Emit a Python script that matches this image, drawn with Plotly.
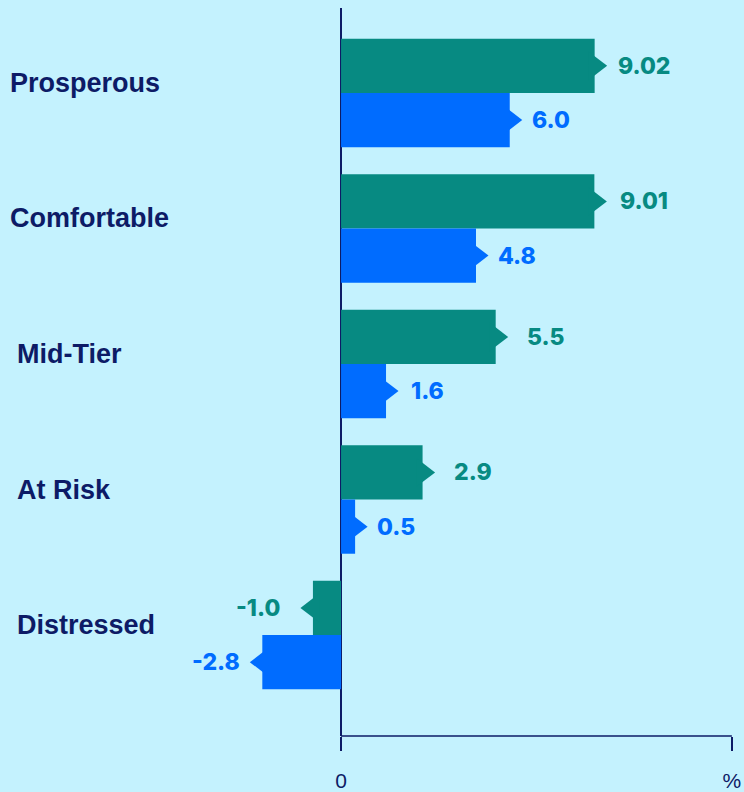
import plotly.graph_objects as go

# ---- data ----
categories = ["Prosperous", "Comfortable", "Mid-Tier", "At Risk", "Distressed"]
series_teal = [9.02, 9.01, 5.5, 2.9, -1.0]
series_blue = [6.0, 4.8, 1.6, 0.5, -2.8]
labels_teal = ["9.02", "9.01", "5.5", "2.9", "-1.0"]
labels_blue = ["6.0", "4.8", "1.6", "0.5", "-2.8"]
x_tick_vals = [0, 13.9]
x_tick_text = ["0", "%"]

# ---- style ----
BG = "#C4F2FE"
TEAL = "#078A82"
BLUE = "#006CFF"
NAVY = "#0D1B66"
BAR_W = 0.4
cat_indent = [8, 8, 15, 15, 15]

ypos = list(range(len(categories)))
y_teal = [y - BAR_W / 2 for y in ypos]
y_blue = [y + BAR_W / 2 for y in ypos]

fig = go.Figure()

fig.add_trace(go.Bar(x=series_teal, y=ypos, orientation="h", width=BAR_W, offset=-BAR_W,
                     marker=dict(color=TEAL, line=dict(width=0)), hoverinfo="skip"))
fig.add_trace(go.Bar(x=series_blue, y=ypos, orientation="h", width=BAR_W, offset=0,
                     marker=dict(color=BLUE, line=dict(width=0)), hoverinfo="skip"))

for vals, ys, col in [(series_teal, y_teal, TEAL), (series_blue, y_blue, BLUE)]:
    fig.add_trace(go.Scatter(
        x=vals, y=ys, mode="markers", hoverinfo="skip",
        marker=dict(symbol=["triangle-right" if v >= 0 else "triangle-left" for v in vals],
                    size=25, color=col, line=dict(width=0)),
        cliponaxis=False))

annotations = []
for vals, ys, labs, col, sh in [(series_teal, y_teal, labels_teal, TEAL, 50),
                                 (series_blue, y_blue, labels_blue, BLUE, 41)]:
    for v, y, t in zip(vals, ys, labs):
        annotations.append(dict(x=v, y=y, xref="x", yref="y", text=t, showarrow=False,
                                xanchor="center", yanchor="middle",
                                xshift=sh if v >= 0 else -(sh + 5),
                                font=dict(family="Inter", size=23, color=col, weight=800)))

for i, c in enumerate(categories):
    annotations.append(dict(x=0, y=ypos[i], xref="paper", yref="y", text=c, showarrow=False,
                            xanchor="left", yanchor="middle", xshift=cat_indent[i], yshift=10,
                            font=dict(family="Liberation Sans", size=27, color=NAVY, weight=700)))

fig.update_layout(
    width=744, height=792,
    margin=dict(l=0, r=12, t=8, b=56),
    paper_bgcolor=BG, plot_bgcolor=BG,
    showlegend=False,
    barmode="overlay",
    annotations=annotations,
    shapes=[dict(type="line", xref="x", yref="paper", x0=0, x1=x_tick_vals[-1], y0=0, y1=0,
                 line=dict(color=NAVY, width=1.5), layer="above")],
    xaxis=dict(range=[-12.13, 13.905], tickvals=x_tick_vals, ticktext=x_tick_text,
               ticks="outside", ticklen=14, tickwidth=1.5, tickcolor=NAVY,
               showline=False, showgrid=False, zeroline=True, zerolinecolor=NAVY,
               zerolinewidth=1.5, layer="above traces", ticklabelstandoff=12,
               tickfont=dict(family="Liberation Sans", size=21, color=NAVY)),
    yaxis=dict(range=[4.745, -0.627], showticklabels=False, showgrid=False,
               zeroline=False, showline=False, ticks=""),
)

fig.write_html("out.html", config={"displayModeBar": False},
               post_script="document.body.style.margin='0';")
